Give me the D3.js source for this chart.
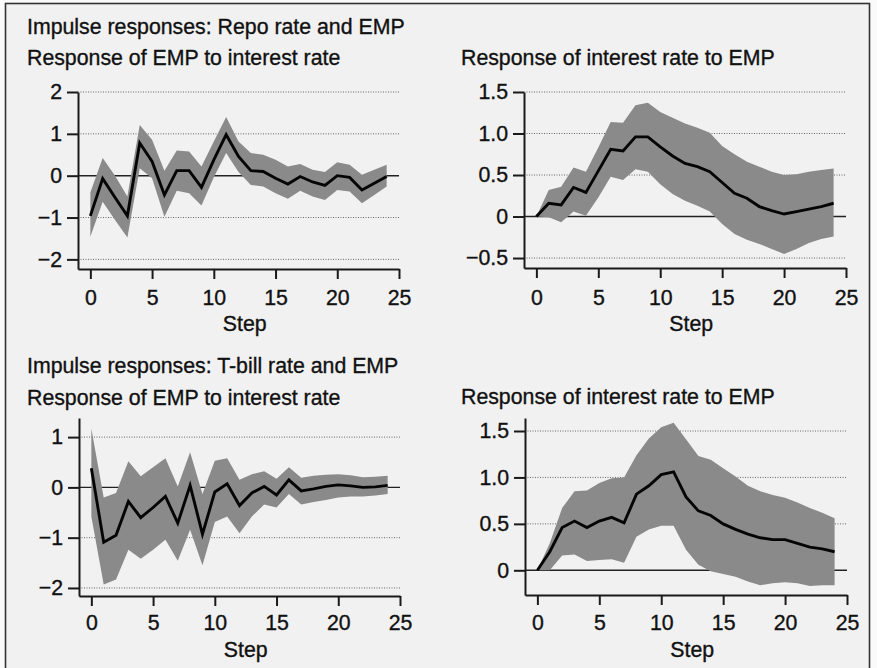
<!DOCTYPE html>
<html>
<head>
<meta charset="utf-8">
<script src="https://cdn.jsdelivr.net/npm/d3@7"></script>
<style>
  html, body { margin: 0; padding: 0; background: #fafafa; }
  svg { display: block; }
  text { font-family: "Liberation Sans", Arial, Helvetica, sans-serif; fill: #111; stroke: #111; stroke-width: 0.35px; }
</style>
</head>
<body>
<svg id="chart" width="877" height="668"></svg>
<script>
// === Data: impulse responses ===
const steps = [0, 1, 2, 3, 4, 5, 6, 7, 8, 9, 10, 11, 12, 13, 14, 15, 16, 17, 18, 19, 20, 21, 22, 23, 24];
const stepTicks = [0, 5, 10, 15, 20, 25];

// Repo rate: response of EMP to interest rate
const repoEmp   = [-0.96, -0.07, -0.52, -0.96, 0.78, 0.34, -0.46, 0.12, 0.12, -0.28, 0.38, 0.98, 0.46, 0.12, 0.10, -0.06, -0.20, -0.02, -0.15, -0.23, 0.00, -0.04, -0.34, -0.18, -0.02];
const repoEmpLo = [-1.46, -0.62, -1.06, -1.48, 0.18, -0.06, -0.98, -0.36, -0.42, -0.71, -0.04, 0.54, 0.09, -0.22, -0.26, -0.42, -0.55, -0.36, -0.50, -0.58, -0.34, -0.38, -0.66, -0.46, -0.26];
const repoEmpHi = [-0.40, 0.42, 0.00, -0.50, 1.21, 0.86, 0.12, 0.60, 0.58, 0.22, 0.82, 1.40, 0.82, 0.54, 0.50, 0.38, 0.22, 0.28, 0.14, 0.09, 0.32, 0.26, 0.02, 0.14, 0.26];

// Repo rate: response of interest rate to EMP
const repoRate   = [0, 0.16, 0.14, 0.35, 0.29, 0.55, 0.81, 0.79, 0.96, 0.96, 0.84, 0.73, 0.64, 0.60, 0.54, 0.41, 0.28, 0.22, 0.12, 0.07, 0.03, 0.06, 0.09, 0.12, 0.16];
const repoRateLo = [0, -0.01, -0.07, 0.06, 0.01, 0.23, 0.48, 0.44, 0.57, 0.54, 0.39, 0.27, 0.19, 0.13, 0.06, -0.09, -0.21, -0.28, -0.33, -0.39, -0.45, -0.39, -0.32, -0.27, -0.24];
const repoRateHi = [0, 0.32, 0.36, 0.59, 0.54, 0.83, 1.14, 1.13, 1.34, 1.37, 1.26, 1.19, 1.12, 1.07, 1.01, 0.85, 0.75, 0.66, 0.60, 0.54, 0.50, 0.51, 0.54, 0.56, 0.58];

// T-bill rate: response of EMP to interest rate
const tbillEmp   = [0.38, -1.09, -0.95, -0.28, -0.60, -0.40, -0.18, -0.71, 0.04, -0.93, -0.09, 0.07, -0.36, -0.11, 0.02, -0.15, 0.15, -0.07, -0.03, 0.02, 0.05, 0.03, 0.00, 0.01, 0.04];
const tbillEmpLo = [-0.58, -1.93, -1.83, -1.24, -1.42, -1.24, -1.04, -1.46, -0.84, -1.55, -0.69, -0.58, -0.91, -0.58, -0.34, -0.40, -0.13, -0.34, -0.29, -0.25, -0.20, -0.18, -0.18, -0.16, -0.13];
const tbillEmpHi = [1.17, -0.20, -0.11, 0.52, 0.22, 0.40, 0.58, 0.02, 0.70, -0.13, 0.53, 0.58, 0.15, 0.26, 0.32, 0.17, 0.40, 0.19, 0.23, 0.25, 0.26, 0.24, 0.20, 0.21, 0.23];

// T-bill rate: response of interest rate to EMP
const tbillRate   = [0, 0.20, 0.46, 0.53, 0.46, 0.53, 0.57, 0.51, 0.82, 0.91, 1.03, 1.06, 0.79, 0.64, 0.59, 0.50, 0.44, 0.39, 0.35, 0.33, 0.33, 0.29, 0.25, 0.23, 0.20];
const tbillRateLo = [0, 0, 0.16, 0.17, 0.10, 0.11, 0.12, 0.08, 0.36, 0.44, 0.48, 0.48, 0.22, 0.06, -0.01, -0.04, -0.07, -0.12, -0.16, -0.14, -0.13, -0.14, -0.17, -0.16, -0.16];
const tbillRateHi = [0, 0.29, 0.67, 0.85, 0.86, 0.94, 0.99, 1.00, 1.24, 1.42, 1.54, 1.59, 1.41, 1.23, 1.19, 1.10, 1.01, 0.91, 0.85, 0.81, 0.78, 0.73, 0.67, 0.62, 0.56];

const rowTitles = ['Impulse responses: Repo rate and EMP', 'Impulse responses: T-bill rate and EMP'];
const empTitle = 'Response of EMP to interest rate';
const rateTitle = 'Response of interest rate to EMP';
const empTicks1 = [-2, -1, 0, 1, 2];
const rateTicks1 = [-0.5, 0, 0.5, 1.0, 1.5];
const empTicks2 = [-2, -1, 0, 1];
const rateTicks2 = [0, 0.5, 1.0, 1.5];

// === Panels ===
const intFmt = d => d3.format('d')(d).replace('-', '\u2212');
const decFmt = d => (d === 0 ? '0' : d3.format('.1f')(d)).replace('-', '\u2212');

const panels = [
  { title: empTitle, head: rowTitles[0], est: repoEmp, lo: repoEmpLo, hi: repoEmpHi,
    yDomain: [-2.23, 2], yTicks: empTicks1, fmt: intFmt,
    box: { left: 78, right: 399, top: 92, bottom: 269 }, titleX: 27, titleY: 65, headY: 34, labY: 305, stepY: 331 },
  { title: rateTitle, est: repoRate, lo: repoRateLo, hi: repoRateHi,
    yDomain: [-0.62, 1.5], yTicks: rateTicks1, fmt: decFmt,
    box: { left: 524, right: 846, top: 92, bottom: 268 }, titleX: 461, titleY: 65, labY: 305, stepY: 331 },
  { title: empTitle, head: rowTitles[1], est: tbillEmp, lo: tbillEmpLo, hi: tbillEmpHi,
    yDomain: [-2.16, 1.38], yTicks: empTicks2, fmt: intFmt,
    box: { left: 79, right: 400, top: 418, bottom: 596 }, titleX: 27, titleY: 405, headY: 373, labY: 630, stepY: 657 },
  { title: rateTitle, est: tbillRate, lo: tbillRateLo, hi: tbillRateHi,
    yDomain: [-0.266, 1.64], yTicks: rateTicks2, fmt: decFmt,
    box: { left: 525, right: 847, top: 418, bottom: 595 }, titleX: 461, titleY: 404, labY: 630, stepY: 657 }
];

const svg = d3.select('#chart');

// Page frame
svg.append('rect')
  .attr('x', 5.5).attr('y', 3.5)
  .attr('width', 864).attr('height', 700)
  .attr('fill', '#f1f1f1')
  .attr('stroke', '#333')
  .attr('stroke-width', 1.6);

const FONT = '21.3px';

panels.forEach(p => {
  const g = svg.append('g');
  const b = p.box;

  const x = d3.scaleLinear().domain([-1, 25]).range([b.left, b.right]);
  const y = d3.scaleLinear().domain(p.yDomain).range([b.bottom, b.top]);

  // Titles
  if (p.head) {
    g.append('text').attr('x', p.titleX).attr('y', p.headY)
      .style('font-size', FONT).text(p.head);
  }
  g.append('text').attr('x', p.titleX).attr('y', p.titleY)
    .style('font-size', FONT).text(p.title);

  // Grid lines (dotted), zero line solid
  g.append('g')
    .selectAll('line')
    .data(p.yTicks.filter(t => t !== 0))
    .join('line')
    .attr('x1', b.left).attr('x2', x(25))
    .attr('y1', d => y(d)).attr('y2', d => y(d))
    .attr('stroke', '#666')
    .attr('stroke-width', 1)
    .attr('stroke-dasharray', '1,1.5');

  g.append('line')
    .attr('x1', b.left).attr('x2', x(25))
    .attr('y1', y(0)).attr('y2', y(0))
    .attr('stroke', '#222')
    .attr('stroke-width', 1.4);

  // Confidence band
  const area = d3.area()
    .x((d, i) => x(steps[i]))
    .y0((d, i) => y(p.lo[i]))
    .y1((d, i) => y(p.hi[i]));

  g.append('path')
    .datum(p.est)
    .attr('d', area)
    .attr('fill', '#8a8a8a');

  // Point estimate
  const line = d3.line()
    .x((d, i) => x(steps[i]))
    .y(d => y(d));

  g.append('path')
    .datum(p.est)
    .attr('d', line)
    .attr('fill', 'none')
    .attr('stroke', '#050505')
    .attr('stroke-width', 2.9)
    .attr('stroke-linejoin', 'miter');

  // Axes
  const yAxis = g.append('g')
    .attr('transform', `translate(${b.left},0)`)
    .call(d3.axisLeft(y).tickValues(p.yTicks).tickFormat(p.fmt).tickSize(11).tickSizeOuter(0).tickPadding(5));

  const xAxis = g.append('g')
    .attr('transform', `translate(0,${b.bottom})`)
    .call(d3.axisBottom(x).tickValues(stepTicks).tickSize(10).tickSizeOuter(0));

  [yAxis, xAxis].forEach(a => {
    a.selectAll('path, line').attr('stroke', '#1a1a1a').attr('stroke-width', 2);
    a.selectAll('text').style('font-size', FONT).style('font-family', '"Liberation Sans", Arial, sans-serif').attr('fill', '#111');
  });
  xAxis.selectAll('text').attr('dy', null).attr('y', p.labY - b.bottom);

  g.append('text')
    .attr('x', (x(0) + x(25)) / 2)
    .attr('y', p.stepY)
    .attr('text-anchor', 'middle')
    .style('font-size', FONT)
    .text('Step');
});
</script>
</body>
</html>
